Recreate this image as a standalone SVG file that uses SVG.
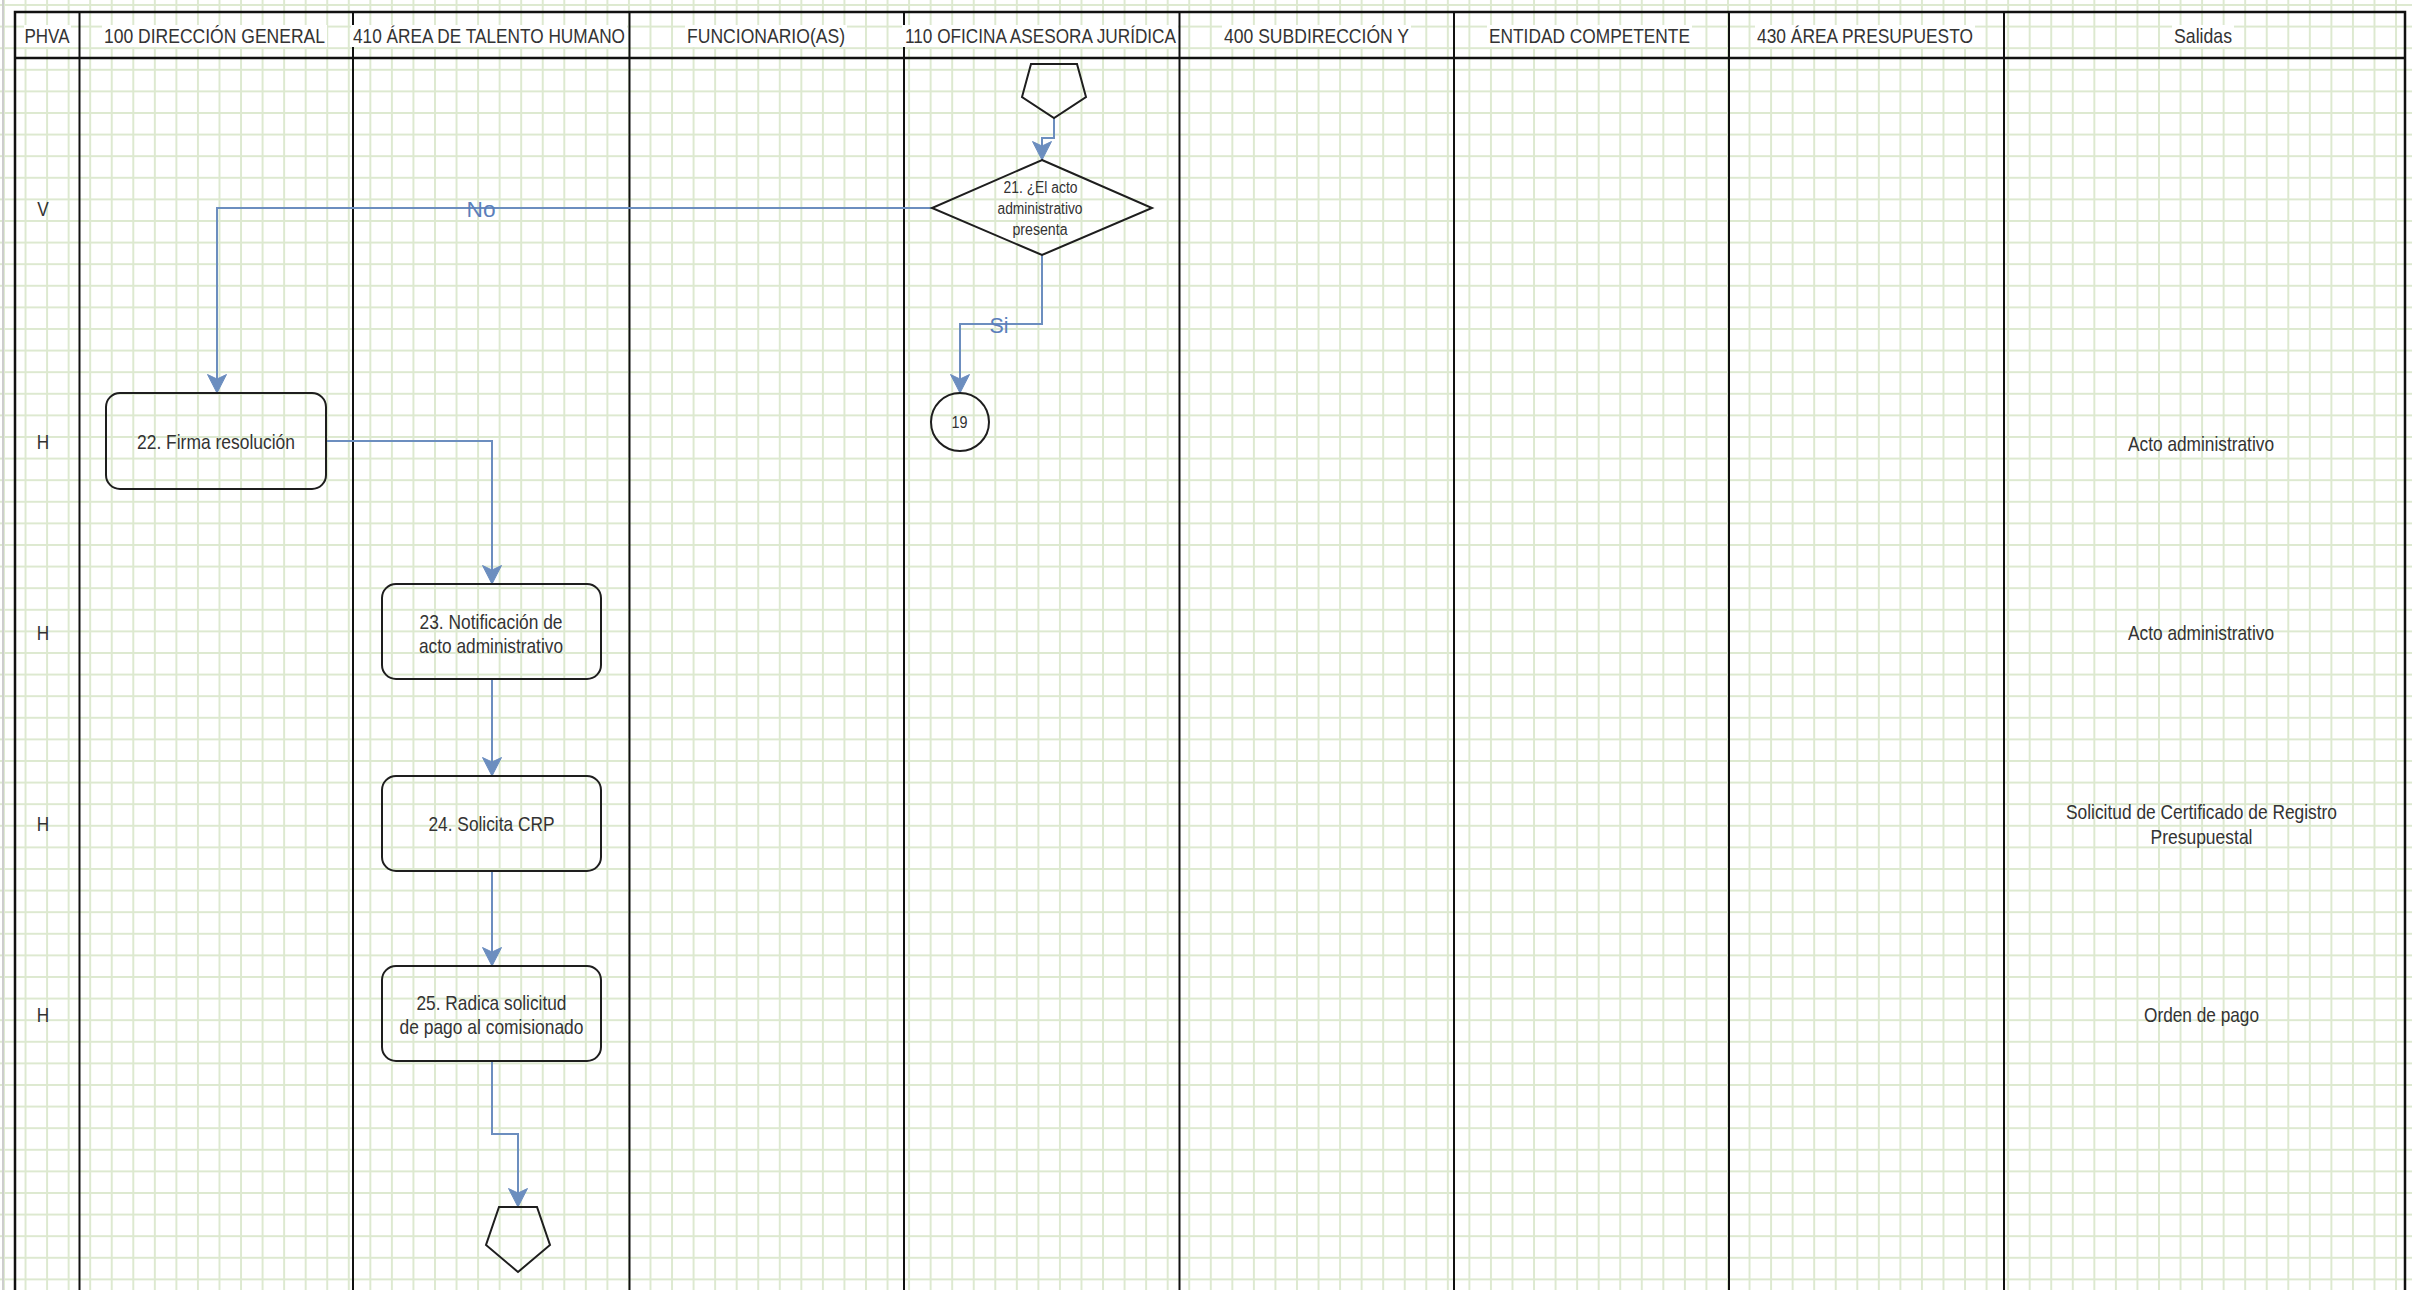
<svg xmlns="http://www.w3.org/2000/svg" width="2412" height="1290" viewBox="0 0 2412 1290">
<defs>
<pattern id="grid" x="3" y="4" width="21.55" height="21.6" patternUnits="userSpaceOnUse">
<path d="M1 0 V21.6 M0 1 H21.55" stroke="#dde9d0" stroke-width="2" fill="none"/>
</pattern>
<marker id="arr" markerUnits="userSpaceOnUse" markerWidth="20" markerHeight="20" refX="19" refY="10" orient="auto" viewBox="0 0 20 20">
<path d="M0.5,0.5 L19,10 L0.5,19.5 L5,10 Z" fill="#6c8ebf" stroke="#6c8ebf" stroke-width="1"/>
</marker>
<style>
.t{font-family:"Liberation Sans Narrow","Arial Narrow","Liberation Sans",Arial,sans-serif;font-size:21px;fill:#333;text-anchor:middle}
.s{font-size:16px}
.c{font-size:17px}
.lbl{fill:#5b7fbb;font-size:22px}
.lane{stroke:#111;stroke-width:2;fill:none}
.frame{stroke:#111;stroke-width:2.5;fill:none}
.box{fill:none;stroke:#1e1e1e;stroke-width:2}
.conn{fill:none;stroke:#6c8ebf;stroke-width:2;marker-end:url(#arr)}
.hb{fill:#fff}
</style>
</defs>

<rect x="0" y="0" width="2412" height="1290" fill="#fff"/>
<rect x="0" y="0" width="2412" height="1290" fill="url(#grid)"/>
<line x1="3" y1="0" x2="3" y2="1290" stroke="#cdcdcd" stroke-width="2"/>

<g id="pool">
<rect class="frame" x="15" y="12" width="2390" height="1300"/>
<line class="frame" x1="15" y1="58" x2="2405" y2="58"/>
<line class="lane" x1="79.5" y1="12" x2="79.5" y2="1290"/>
<line class="lane" x1="353" y1="12" x2="353" y2="1290"/>
<line class="lane" x1="629.5" y1="12" x2="629.5" y2="1290"/>
<line class="lane" x1="904" y1="12" x2="904" y2="1290"/>
<line class="lane" x1="1179.5" y1="12" x2="1179.5" y2="1290"/>
<line class="lane" x1="1454" y1="12" x2="1454" y2="1290"/>
<line class="lane" x1="1729" y1="12" x2="1729" y2="1290"/>
<line class="lane" x1="2004" y1="12" x2="2004" y2="1290"/>
</g>

<g id="headers">
<rect class="hb" x="24" y="25" width="47" height="22"/>
<text class="t" x="47" y="43" textLength="45" lengthAdjust="spacingAndGlyphs">PHVA</text>
<rect class="hb" x="102" y="25" width="225" height="22"/>
<text class="t" x="214.5" y="43" textLength="221" lengthAdjust="spacingAndGlyphs">100 DIRECCIÓN GENERAL</text>
<rect class="hb" x="351" y="25" width="276" height="22"/>
<text class="t" x="489" y="43" textLength="272" lengthAdjust="spacingAndGlyphs">410 ÁREA DE TALENTO HUMANO</text>
<rect class="hb" x="685" y="25" width="162" height="22"/>
<text class="t" x="766" y="43" textLength="158" lengthAdjust="spacingAndGlyphs">FUNCIONARIO(AS)</text>
<rect class="hb" x="902" y="25" width="276" height="22"/>
<text class="t" x="1040.5" y="43" textLength="271" lengthAdjust="spacingAndGlyphs">110 OFICINA ASESORA JURÍDICA</text>
<rect class="hb" x="1222" y="25" width="189" height="22"/>
<text class="t" x="1316.5" y="43" textLength="185" lengthAdjust="spacingAndGlyphs">400 SUBDIRECCIÓN Y</text>
<rect class="hb" x="1487" y="25" width="205" height="22"/>
<text class="t" x="1589.5" y="43" textLength="201" lengthAdjust="spacingAndGlyphs">ENTIDAD COMPETENTE</text>
<rect class="hb" x="1755" y="25" width="220" height="22"/>
<text class="t" x="1865" y="43" textLength="216" lengthAdjust="spacingAndGlyphs">430 ÁREA PRESUPUESTO</text>
<rect class="hb" x="2172" y="25" width="62" height="22"/>
<text class="t" x="2203" y="43" textLength="58" lengthAdjust="spacingAndGlyphs">Salidas</text>
</g>

<g id="phva">
<text class="t" x="43" y="215.5" textLength="11.5" lengthAdjust="spacingAndGlyphs">V</text>
<text class="t" x="43" y="448.5" textLength="12.4" lengthAdjust="spacingAndGlyphs">H</text>
<text class="t" x="43" y="639.5" textLength="12.4" lengthAdjust="spacingAndGlyphs">H</text>
<text class="t" x="43" y="831" textLength="12.4" lengthAdjust="spacingAndGlyphs">H</text>
<text class="t" x="43" y="1021.5" textLength="12.4" lengthAdjust="spacingAndGlyphs">H</text>
</g>

<g id="connectors">
<path class="conn" d="M1054 118 V138 H1042 V160"/>
<path class="conn" d="M932 208 H217 V393"/>
<path class="conn" d="M1042 255 V324 H960 V393"/>
<path class="conn" d="M326 441 H492 V584"/>
<path class="conn" d="M492 679 V776"/>
<path class="conn" d="M492 871 V966"/>
<path class="conn" d="M492 1061 V1134 H518 V1207"/>
<text class="t lbl" x="481" y="217" textLength="29" lengthAdjust="spacingAndGlyphs">No</text>
<text class="t lbl" x="999" y="333" textLength="19" lengthAdjust="spacingAndGlyphs">Si</text>
</g>

<g id="start-connector">
<polygon class="box" points="1031,64 1077,64 1086,97 1054,118 1022,97"/>
</g>

<g id="n21">
<polygon class="box" points="1042,160 1152,208 1042,255 932,208"/>
<text class="t s" x="1040.5" y="192.5" textLength="74" lengthAdjust="spacingAndGlyphs">21. ¿El acto</text>
<text class="t s" x="1040" y="214" textLength="85" lengthAdjust="spacingAndGlyphs">administrativo</text>
<text class="t s" x="1040" y="235" textLength="55" lengthAdjust="spacingAndGlyphs">presenta</text>
</g>

<g id="n19">
<circle class="box" cx="960" cy="422" r="29"/>
<text class="t c" x="959.5" y="427.5" textLength="16" lengthAdjust="spacingAndGlyphs">19</text>
</g>

<g id="n22">
<rect class="box" x="106" y="393" width="220" height="96" rx="14"/>
<text class="t" x="216" y="448.5" textLength="158" lengthAdjust="spacingAndGlyphs">22. Firma resolución</text>
</g>

<g id="n23">
<rect class="box" x="382" y="584" width="219" height="95" rx="14"/>
<text class="t" x="491" y="628.5" textLength="143" lengthAdjust="spacingAndGlyphs">23. Notificación de</text>
<text class="t" x="491" y="652.5" textLength="144" lengthAdjust="spacingAndGlyphs">acto administrativo</text>
</g>

<g id="n24">
<rect class="box" x="382" y="776" width="219" height="95" rx="14"/>
<text class="t" x="491.5" y="831" textLength="126" lengthAdjust="spacingAndGlyphs">24. Solicita CRP</text>
</g>

<g id="n25">
<rect class="box" x="382" y="966" width="219" height="95" rx="14"/>
<text class="t" x="491.5" y="1009.5" textLength="150" lengthAdjust="spacingAndGlyphs">25. Radica solicitud</text>
<text class="t" x="491.5" y="1033.5" textLength="184" lengthAdjust="spacingAndGlyphs">de pago al comisionado</text>
</g>

<g id="end-connector">
<polygon class="box" points="499,1207 537,1207 550,1245 518,1272 486,1245"/>
</g>

<g id="salidas">
<text class="t" x="2201" y="450.5" textLength="146" lengthAdjust="spacingAndGlyphs">Acto administrativo</text>
<text class="t" x="2201" y="639.5" textLength="146" lengthAdjust="spacingAndGlyphs">Acto administrativo</text>
<text class="t" x="2201.5" y="818.5" textLength="271" lengthAdjust="spacingAndGlyphs">Solicitud de Certificado de Registro</text>
<text class="t" x="2201.5" y="843.5" textLength="102" lengthAdjust="spacingAndGlyphs">Presupuestal</text>
<text class="t" x="2201.5" y="1021.5" textLength="115" lengthAdjust="spacingAndGlyphs">Orden de pago</text>
</g>
</svg>
